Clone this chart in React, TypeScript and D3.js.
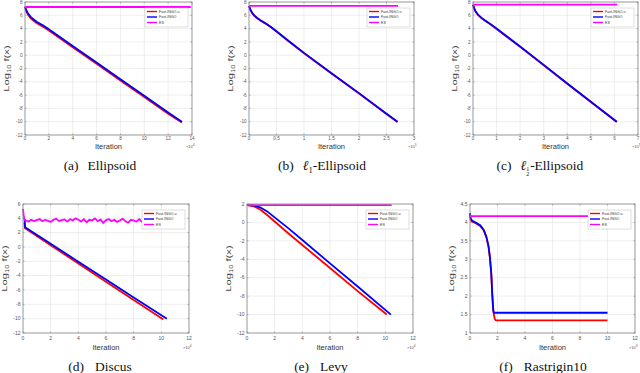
import React from 'react';
import * as d3 from 'd3';

const width = 640;
const height = 373;

const RED = '#ff0000';
const BLUE = '#0000ff';
const MAGENTA = '#ff00ff';
const legendNames = ['Fast-INGO-u', 'Fast-INGO', 'ES'];

// (a) Ellipsoid, iterations x1e4
const ellIter = [0, 0.1, 0.25, 0.5, 1, 1.5, 2, 4, 6, 8, 10, 12, 13.15];
const ellU = [7.3, 6.6, 6.1, 5.5, 4.8, 4.3, 3.7, 1.2, -1.3, -3.8, -6.3, -8.8, -10.1];
const ellF = [7.3, 6.8, 6.3, 5.7, 5.0, 4.5, 3.9, 1.4, -1.1, -3.6, -6.1, -8.6, -10.0];
const ellEsIter = [0, 13.9];
const ellEs = [7.25, 7.25];

// (b) l1-Ellipsoid, x1e5
const l1Iter = [0, 0.03, 0.06, 0.1, 0.15, 0.2, 0.3, 0.4, 0.5, 0.75, 1, 1.5, 2, 2.5, 2.7];
const l1U = [7.4, 6.7, 6.3, 5.9, 5.55, 5.25, 4.75, 4.2, 3.55, 1.9, 0.3, -2.75, -5.75, -8.85, -10.05];
const l1F = [7.4, 6.75, 6.35, 5.95, 5.6, 5.3, 4.8, 4.25, 3.6, 1.95, 0.35, -2.7, -5.7, -8.8, -10.0];
const l1EsIter = [0, 2.71];
const l1Es = [7.42, 7.42];

// (c) l1/2-Ellipsoid, x1e5
const halfIter = [0, 0.05, 0.1, 0.2, 0.35, 0.5, 0.75, 1, 1.5, 2, 3, 4, 5, 6.1];
const halfU = [7.6, 7.0, 6.6, 6.1, 5.6, 5.2, 4.6, 3.95, 2.6, 1.25, -1.5, -4.3, -7.05, -10.05];
const halfF = [7.6, 7.05, 6.65, 6.15, 5.65, 5.25, 4.65, 4.0, 2.65, 1.3, -1.45, -4.25, -7.0, -10.0];
const halfEsIter = [0, 6.12];
const halfEs = [7.6, 7.6];

// (d) Discus, x1e4
const discIterU = [0.1, 0.15, 2, 4, 6, 8, 10.15];
const discU = [3.4, 2.6, 0.25, -2.3, -4.85, -7.4, -10.1];
const discIterF = [0.12, 0.15, 2, 4, 6, 8, 10.4];
const discF = [3.9, 2.75, 0.45, -2.05, -4.55, -7.05, -10.0];
const discEsHead = [5.3, 4.4, 3.8];
const discEs = [3.7, 3.55, 3.8, 3.6, 3.75, 3.9, 3.6, 3.8, 3.65, 3.5, 3.8, 3.95, 3.6, 3.75, 3.85, 3.55,
  3.9, 3.7, 4.0, 3.8, 3.55, 3.9, 3.45, 3.8, 3.7, 4.0, 3.6, 3.85, 3.35, 3.75, 3.9, 3.6, 3.8, 3.5,
  3.7, 3.95, 3.6, 3.4, 3.8, 3.7, 3.55, 3.9, 3.5, 3.85, 3.7, 3.6, 3.9, 3.7, 3.8, 3.6, 3.75, 3.65];

// (e) Levy, x1e4
const levyIterU = [0, 0.5, 1, 1.5, 2, 2.5, 3, 4, 6, 8, 10.1];
const levyU = [1.88, 1.75, 1.35, 0.75, 0.1, -0.55, -1.2, -2.45, -4.95, -7.45, -10.0];
const levyIterF = [0, 0.5, 1, 1.5, 2, 2.5, 3, 4, 6, 8, 10.4];
const levyF = [1.88, 1.84, 1.6, 1.15, 0.55, -0.05, -0.65, -1.9, -4.45, -6.95, -10.0];
const levyEsIter = [0, 10.45];
const levyEs = [1.88, 1.88];

// (f) Rastrigin10, x1e3
const rasIterF = [0, 0.05, 0.15, 0.3, 0.5, 0.75, 1.0, 1.2, 1.35, 1.45, 1.55, 1.62, 1.68, 1.72, 2, 4, 6, 8, 10];
const rasF = [4.25, 4.1, 4.05, 4.02, 3.98, 3.92, 3.8, 3.6, 3.35, 3.05, 2.6, 2.05, 1.65, 1.55, 1.55, 1.55, 1.55, 1.55, 1.55];
const rasIterU = [0, 0.05, 0.15, 0.3, 0.5, 0.75, 1.0, 1.2, 1.35, 1.45, 1.55, 1.62, 1.7, 1.74, 1.8, 1.88, 4, 6, 8, 10];
const rasU = [4.22, 4.07, 4.02, 4.0, 3.96, 3.9, 3.78, 3.58, 3.33, 3.03, 2.58, 2.03, 1.62, 1.5, 1.38, 1.34, 1.34, 1.34, 1.34, 1.34];
const rasEsIter = [0, 10];
const rasEs = [4.17, 4.17];

type Series = { xs: number[]; ys: number[]; color: string };

type PanelProps = {
  left: number; right: number; top: number; bottom: number;
  xMax: number; xStep: number; yMin: number; yMax: number; yStep: number;
  exp: string; series: Series[]; caption: React.ReactNode;
  capX: number; capY: number; tickGap: number; labelGap: number; fs: number;
};

const sans = '"Liberation Sans", Arial, sans-serif';
const serif = '"Liberation Serif", "DejaVu Serif", serif';

function ticks(max: number, min: number, step: number) {
  return d3.range(min, max + step / 2, step).map(v => +v.toFixed(3));
}

function Panel(p: PanelProps) {
  const x = d3.scaleLinear().domain([0, p.xMax]).range([p.left, p.right]);
  const y = d3.scaleLinear().domain([p.yMin, p.yMax]).range([p.bottom, p.top]);
  const line = d3.line<[number, number]>().x(d => x(d[0])).y(d => y(d[1]));
  const xt = ticks(p.xMax, 0, p.xStep);
  const yt = ticks(p.yMax, p.yMin, p.yStep);
  const lgW = 43, lgH = 19;
  const lgX = p.right - 4 - lgW, lgY = p.top + 6;
  const colors = [RED, BLUE, MAGENTA];
  const midY = (p.top + p.bottom) / 2;
  const ylx = p.left - 16;
  return (
    <g>
      <rect x={p.left} y={p.top} width={p.right - p.left} height={p.bottom - p.top} fill="white" />
      {xt.map(v => (
        <line key={'gx' + v} x1={x(v)} x2={x(v)} y1={p.top} y2={p.bottom} stroke="#e3e3e3" strokeWidth={0.6} />
      ))}
      {yt.map(v => (
        <line key={'gy' + v} x1={p.left} x2={p.right} y1={y(v)} y2={y(v)} stroke="#e3e3e3" strokeWidth={0.6} />
      ))}
      {p.series.map((s, i) => (
        <path key={i} d={line(s.xs.map((v, j) => [v, s.ys[j]] as [number, number])) || ''}
          fill="none" stroke={s.color} strokeWidth={1.8} strokeLinejoin="round" />
      ))}
      <rect x={p.left} y={p.top} width={p.right - p.left} height={p.bottom - p.top} fill="none" stroke="#8a8a8a" strokeWidth={0.8} />
      {xt.map(v => (
        <g key={'tx' + v}>
          <line x1={x(v)} x2={x(v)} y1={p.bottom} y2={p.bottom - 1.5} stroke="#777" strokeWidth={0.5} />
          <line x1={x(v)} x2={x(v)} y1={p.top} y2={p.top + 1.5} stroke="#777" strokeWidth={0.5} />
          <text x={x(v)} y={p.bottom + p.tickGap} fontSize={p.fs} fill="#555" textAnchor="middle" fontFamily={sans}>{String(v)}</text>
        </g>
      ))}
      {yt.map(v => (
        <g key={'ty' + v}>
          <line x1={p.left} x2={p.left + 1.5} y1={y(v)} y2={y(v)} stroke="#777" strokeWidth={0.5} />
          <line x1={p.right} x2={p.right - 1.5} y1={y(v)} y2={y(v)} stroke="#777" strokeWidth={0.5} />
          <text x={p.left - 2.5} y={y(v) + p.fs * 0.35} fontSize={p.fs} fill="#555" textAnchor="end" fontFamily={sans}>{String(v)}</text>
        </g>
      ))}
      <text x={(p.left + p.right) / 2} y={p.bottom + p.labelGap} fontSize={7.5} fill="#333" textAnchor="middle" fontFamily={sans}>Iteration</text>
      <text x={p.right - 6} y={p.bottom + p.labelGap - 1} fontSize={4} fill="#555" fontFamily={sans}>
        ×10<tspan dy={-2} fontSize={3.2}>{p.exp}</tspan>
      </text>
      <text transform={`translate(${ylx},${midY}) scale(1,1.5) rotate(-90)`} fontSize={7.5} fill="#444" textAnchor="middle" fontFamily={sans}>
        Log<tspan dy={2} fontSize={5}>10</tspan><tspan dy={-2} dx={2}>f(x)</tspan>
      </text>
      <rect x={lgX} y={lgY} width={lgW} height={lgH} fill="white" stroke="#bdbdbd" strokeWidth={0.5} />
      {legendNames.map((n, i) => (
        <g key={n}>
          <line x1={lgX + 2} x2={lgX + 12} y1={lgY + 3.5 + i * 5.5} y2={lgY + 3.5 + i * 5.5} stroke={colors[i]} strokeWidth={1.4} />
          <text x={lgX + 14} y={lgY + 4.8 + i * 5.5} fontSize={3.6} fill="#333" fontFamily={sans}>{n}</text>
        </g>
      ))}
      <text x={p.capX} y={p.capY} fontSize={13.5} fill="#111" textAnchor="middle" fontFamily={serif}>{p.caption}</text>
    </g>
  );
}

const discEsIter = [0, 0.05, 0.1, ...discEs.map((_, i) => +(0.2 + i * 0.2).toFixed(2))];
const discEsAll = [...discEsHead, ...discEs];

export default function App() {
  const top = { top: 2, bottom: 135, tickGap: 5, labelGap: 14, fs: 4.6, capY: 170 };
  const bot = { top: 204, bottom: 333, tickGap: 7, labelGap: 17, fs: 5, capY: 371 };
  return (
    <svg width={width} height={height} style={{ position: 'absolute', left: 0, top: 0, background: 'white' }}>
      <Panel {...top} left={25} right={192} xMax={14} xStep={2} yMin={-12} yMax={8} yStep={2} exp="4" capX={100}
        series={[{ xs: ellIter, ys: ellU, color: RED }, { xs: ellIter, ys: ellF, color: BLUE }, { xs: ellEsIter, ys: ellEs, color: MAGENTA }]}
        caption={<><tspan>(a)</tspan><tspan dx={9}>Ellipsoid</tspan></>} />
      <Panel {...top} left={249} right={414} xMax={3} xStep={0.5} yMin={-12} yMax={8} yStep={2} exp="5" capX={322}
        series={[{ xs: l1Iter, ys: l1U, color: RED }, { xs: l1Iter, ys: l1F, color: BLUE }, { xs: l1EsIter, ys: l1Es, color: MAGENTA }]}
        caption={<><tspan>(b)</tspan><tspan dx={9} fontStyle="italic">ℓ</tspan><tspan dy={2.5} fontSize={8.5}>1</tspan><tspan dy={-2.5}>-Ellipsoid</tspan></>} />
      <Panel {...top} left={473} right={638} xMax={7} xStep={1} yMin={-12} yMax={8} yStep={2} exp="5" capX={540}
        series={[{ xs: halfIter, ys: halfU, color: RED }, { xs: halfIter, ys: halfF, color: BLUE }, { xs: halfEsIter, ys: halfEs, color: MAGENTA }]}
        caption={<><tspan>(c)</tspan><tspan dx={9} fontStyle="italic">ℓ</tspan><tspan dy={0.5} fontSize={6}>1</tspan><tspan dx={-3.1} dy={5} fontSize={6}>2</tspan><tspan dy={-5.5} dx={1}>-Ellipsoid</tspan></>} />
      <Panel {...bot} left={23} right={189} xMax={12} xStep={2} yMin={-12} yMax={6} yStep={2} exp="4" capX={100}
        series={[{ xs: discIterU, ys: discU, color: RED }, { xs: discIterF, ys: discF, color: BLUE }, { xs: discEsIter, ys: discEsAll, color: MAGENTA }]}
        caption={<><tspan>(d)</tspan><tspan dx={11}>Discus</tspan></>} />
      <Panel {...bot} left={247} right={413} xMax={12} xStep={2} yMin={-12} yMax={2} yStep={2} exp="4" capX={321}
        series={[{ xs: levyIterU, ys: levyU, color: RED }, { xs: levyIterF, ys: levyF, color: BLUE }, { xs: levyEsIter, ys: levyEs, color: MAGENTA }]}
        caption={<><tspan>(e)</tspan><tspan dx={11}>Levy</tspan></>} />
      <Panel {...bot} left={470} right={635} xMax={12} xStep={2} yMin={1} yMax={4.5} yStep={0.5} exp="3" capX={543}
        series={[{ xs: rasIterU, ys: rasU, color: RED }, { xs: rasIterF, ys: rasF, color: BLUE }, { xs: rasEsIter, ys: rasEs, color: MAGENTA }]}
        caption={<><tspan>(f)</tspan><tspan dx={11}>Rastrigin10</tspan></>} />
    </svg>
  );
}
